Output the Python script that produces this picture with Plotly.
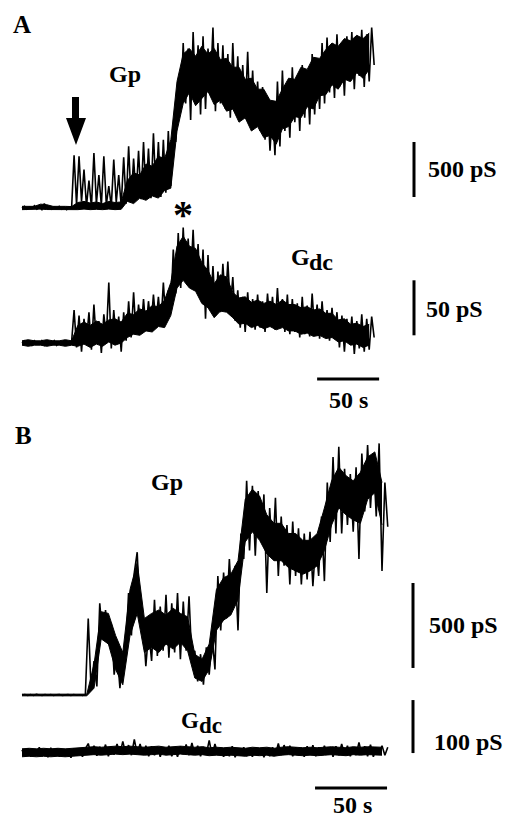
import numpy as np
import plotly.graph_objects as go

W, H = 508, 817

# ---------------- data ----------------
# Panel A traces, sampled every 2 s; conductance in pS (noise extremes)
gp_a = [0, 15, -10, 10, -5, 20, -10, 5, -15, 40, 0, 10, -10, 10, -5, 15, -10, 5, -15, 10, 0,
        480, 30, 470, 60, 350, 20, 250, 10, 500, 40, 300, 20, 470, 30, 200, 15, 440, 50, 300, 20, 460,
        40, 560, 60, 450, 100, 520, 80, 600, 120, 540, 90, 680, 150, 600, 100, 620, 140, 700, 200,
        750, 600, 1100, 900,
        1500, 950, 1450, 800, 1600, 1000, 1480, 850, 1560, 900, 1450, 1100, 1640, 880, 1500, 950,
        1480, 900, 1400, 820, 1500, 950, 1380, 800, 1300, 850, 1420, 780, 1250, 750, 1150, 700, 1100, 620, 1000, 520, 900, 480,
        1150, 560, 1250, 700, 1100, 640, 1280, 780, 1200, 700, 1300, 820, 1250, 760, 1400, 850, 1350, 900,
        1500, 950, 1550, 1050, 1480, 1000, 1580, 1100, 1500, 1020, 1560, 1150, 1600, 1080, 1540, 1200, 1620, 1100, 1580, 1150, 1640, 1300]

gdc_a = [0, 2, -1, 1, -2, 2, 0, -1, 2, -2, 1, 0, -1, 2, -2, 1, -1, 2, 0, -1, 1,
         30, -4, 25, -8, 22, 2, 28, -6, 35, 0, 20, -9, 26, 5, 55, -5, 30, 2, 24, -8, 28,
         2, 38, 5, 46, 8, 35, 10, 40, 12, 38, 15, 44, 18, 42, 16, 55, 20, 48, 30,
         85, 45, 100, 50, 105, 58, 95, 55,
         103, 50, 90, 40, 85, 22, 80, 30, 70, 25, 65, 28, 72, 35, 74, 32, 60,
         20, 48, 14, 42, 10, 46, 15, 40, 12, 44, 14, 38, 10, 45, 16, 42, 12, 50, 14, 40, 10, 44,
         8, 40, 10, 36, 5, 42, 8, 34, 6, 45, 10, 35, 4, 38, 8, 30, 2, 32, 5, 28,
         -4, 25, -8, 22, 0, 24, -10, 20, -5, 26, -8, 22, -6, 24, 5]

# Panel A dense core of the traces (lower / upper edge of the solid band), every 5 s
gp_a_core_lo = [-15, -12, -15, -10, -14, -15, -12, -15, -13,
                -15, -10, -15, -12, -15, -10, -15, -12,
                60, 40, 90, 70, 110, 90, 160, 180,
                700,
                950, 1050, 930, 1000, 1060, 940, 980,
                880, 900, 780, 820, 700, 740, 640, 660, 580,
                720, 740, 830, 820, 920, 900, 1020,
                1030, 1120, 1080, 1170, 1150, 1230, 1180, 1260]
gp_a_core_hi = [15, 12, 15, 35, 30, 15, 12, 15, 13,
                50, 60, 45, 55, 40, 60, 50, 55,
                250, 320, 300, 400, 380, 470, 450, 620,
                1150,
                1400, 1450, 1380, 1470, 1400, 1450, 1350,
                1360, 1280, 1280, 1170, 1180, 1080, 1080, 980, 970,
                1080, 1180, 1170, 1280, 1260, 1370, 1360,
                1440, 1500, 1470, 1540, 1520, 1570, 1540, 1590]
gdc_a_core_lo = [-2, -3, -2, -2, -3, -2, -2, -3, -2,
                 -3, -1, -4, -1, -3, 1, -2, 0,
                 5, 8, 7, 11, 10, 15, 14, 25,
                 50, 57, 50,
                 47, 36, 32, 23, 29, 28,
                 23, 17, 18, 14, 16, 13, 15, 12, 14, 11,
                 11, 8, 9, 6, 7, 4, 5,
                 1, 2, -2, -1, -4, -2]
gdc_a_core_hi = [2, 3, 2, 2, 3, 2, 2, 3, 2,
                 16, 19, 16, 20, 17, 21, 22, 19,
                 27, 26, 31, 29, 34, 33, 39, 55,
                 88, 97, 88,
                 86, 73, 66, 54, 62, 60,
                 46, 41, 42, 37, 39, 36, 38, 35, 39, 35,
                 35, 32, 33, 30, 31, 27, 27,
                 21, 22, 17, 18, 15, 17]

# Panel B traces, sampled every 2 s; conductance in pS
gp_b = [0, 3, -2, 2, -3, 4, 0, -2, 3, -1, 2, -3, 1, 3, -2, 0, 2, -3, 3, -1, 1, -2, 2,
        450, 30, 200, 50,
        540, 330, 500, 300,
        420, 120, 260, 40, 220, 250,
        600, 350, 720, 840, 450,
        430, 170, 380,
        200, 560, 230, 520, 260, 590, 220, 540, 250, 600, 210, 550, 260, 580, 200,
        260, 80, 240, 60, 280, 120, 350,
        150, 700, 380, 720, 450, 800, 500, 760, 380,
        950, 800, 1260, 850, 1230, 820, 1200, 900, 1180,
        600, 1100, 800, 1160, 700, 1050, 760, 1000, 650, 1020, 700, 980,
        650, 950, 680, 960, 640, 900, 700,
        1050, 670, 1250, 900, 1400, 950, 1460,
        950, 1330, 1000, 1300, 960, 1340, 800,
        1420, 1080, 1470, 1100, 1400, 1050, 1480,
        730, 1250, 990]

gdc_b = [4, -8, 7, -9, 5, -7, 9, -8, 4, -10, 8, -6, 7, -9, 5, -8, 4, -11, 7, -7, 3, -9, 6,
         16, -5, 12, -7, 10, -4, 14, -8, 11, -5, 15, -4, 20, -3, 13, -6, 24, -4, 15, -5, 12, -8, 11,
         -6, 10, -9, 8, -5, 12, -8, 7, -9, 11, -4, 14, -6, 17, -5, 12, -8, 10, -4, 22, -6, 15, -5,
         8, -9, 7, -8, 11, -10, 5, -7, 9, -8, 4, -9, 8, -7, 6, -10, 5, -8, 9, -5, 16, -6, 13,
         -4, 12, -8, 9, -6, 8, -9, 11, -5, 13, -8, 9, -6, 12, -5, 8, -9, 11, -6, 15, -4, 12, -8,
         9, -6, 18, -5, 11, -8, 14, -9, 8, -5, 12, -6, 9]

# Panel B dense core, every 5 s
gp_b_core_lo = [-5, -5, -5, -5, -5, -5, -5, -5, -5, -5,
                40,
                330, 300,
                150, 60,
                350, 480,
                250,
                280, 250, 300, 270, 310, 260,
                100, 80, 150,
                380, 440, 470, 560,
                900, 960, 910,
                830, 790, 790, 750, 730,
                710, 730, 760,
                850, 1000, 1100,
                1060, 1030, 1010,
                1150, 1190, 1000]
gp_b_core_hi = [5, 5, 5, 5, 5, 5, 5, 5, 5, 5,
                180,
                490, 480,
                350, 250,
                620, 780,
                450,
                480, 500, 470, 510, 480, 460,
                240, 210, 300,
                620, 690, 710, 790,
                1150, 1210, 1170,
                1060, 1010, 1010, 950, 950,
                910, 910, 950,
                1100, 1260, 1340,
                1290, 1260, 1310,
                1400, 1430, 1250]
gdc_b_core_lo = [-9, -8, -9, -8, -9, -8, -9, -8, -8, -6,
                 -5, -6, -5, -4, -5, -4, -5, -6, -5, -4,
                 -6, -5, -4, -5, -6, -5, -7, -6, -7, -6,
                 -7, -8, -6, -7, -6, -8, -6, -5, -6, -7,
                 -6, -7, -6, -5, -6, -7, -5, -6, -5, -6, -6]
gdc_b_core_hi = [6, 7, 6, 7, 6, 7, 6, 7, 7, 9,
                 10, 9, 10, 11, 10, 11, 10, 9, 10, 11,
                 9, 10, 11, 10, 9, 10, 8, 9, 8, 9,
                 8, 7, 9, 8, 9, 7, 9, 10, 9, 8,
                 9, 8, 9, 10, 9, 8, 10, 9, 10, 9, 9]

dt = 2.0      # sampling interval of traces, s
dt_core = 5.0 # sampling interval of band edges, s
t_a = np.arange(len(gp_a)) * dt
t_b = np.arange(len(gp_b)) * dt
tc_a = np.arange(len(gp_a_core_lo)) * dt_core
tc_b = np.arange(len(gp_b_core_lo)) * dt_core

scale_gp_a = 500     # pS
scale_gdc_a = 50     # pS
scale_gp_b = 500     # pS
scale_gdc_b = 100    # pS
time_bar = 50        # s

# ---------------- layout helpers (pixel placement) ----------------
def px(x):
    return x / W

def py(y):
    return 1 - y / H

def xrange_for(x0_px, k):
    return [(0 - x0_px) / k, (W - x0_px) / k]

def yrange_for(base_px, k):
    return [(base_px - H) / k, base_px / k]

KXA, X0A = 1.24, 22
KXB, X0B = 1.44, 22
AX = dict(gp_a=(208, 0.11), gdc_a=(343, 1.1), gp_b=(695, 0.17), gdc_b=(752, 0.53))

fig = go.Figure()

def band(t, lo, hi, xa, ya):
    fig.add_trace(go.Scatter(x=t, y=lo, mode="lines", line=dict(color="black", width=1),
                             xaxis=xa, yaxis=ya, hoverinfo="skip"))
    fig.add_trace(go.Scatter(x=t, y=hi, mode="lines", line=dict(color="black", width=1),
                             fill="tonexty", fillcolor="black",
                             xaxis=xa, yaxis=ya, hoverinfo="skip"))

band(tc_a, gp_a_core_lo, gp_a_core_hi, "x", "y")
band(tc_a, gdc_a_core_lo, gdc_a_core_hi, "x", "y2")
band(tc_b, gp_b_core_lo, gp_b_core_hi, "x2", "y3")
band(tc_b, gdc_b_core_lo, gdc_b_core_hi, "x2", "y4")

lw = 1.6
fig.add_trace(go.Scatter(x=t_a, y=gp_a, mode="lines", line=dict(color="black", width=lw),
                         xaxis="x", yaxis="y"))
fig.add_trace(go.Scatter(x=t_a, y=gdc_a, mode="lines", line=dict(color="black", width=lw),
                         xaxis="x", yaxis="y2"))
fig.add_trace(go.Scatter(x=t_b, y=gp_b, mode="lines", line=dict(color="black", width=lw),
                         xaxis="x2", yaxis="y3"))
fig.add_trace(go.Scatter(x=t_b, y=gdc_b, mode="lines", line=dict(color="black", width=lw),
                         xaxis="x2", yaxis="y4"))

hidden = dict(visible=False, fixedrange=True, domain=[0, 1])
fig.update_layout(
    width=W, height=H, margin=dict(l=0, r=0, t=0, b=0),
    paper_bgcolor="white", plot_bgcolor="white", showlegend=False,
    xaxis=dict(hidden, range=xrange_for(X0A, KXA), anchor="y"),
    xaxis2=dict(hidden, range=xrange_for(X0B, KXB), anchor="y3", overlaying="x"),
    yaxis=dict(hidden, range=yrange_for(*AX["gp_a"]), anchor="x"),
    yaxis2=dict(hidden, range=yrange_for(*AX["gdc_a"]), anchor="x", overlaying="y"),
    yaxis3=dict(hidden, range=yrange_for(*AX["gp_b"]), anchor="x2", overlaying="y"),
    yaxis4=dict(hidden, range=yrange_for(*AX["gdc_b"]), anchor="x2", overlaying="y"),
)

# ---------------- scale bars ----------------
shapes = []
def vbar(xpix, yref, bottom, length):
    shapes.append(dict(type="line", xref="paper", yref=yref, x0=px(xpix), x1=px(xpix),
                       y0=bottom, y1=bottom + length, line=dict(color="black", width=3)))

def hbar(xref, t0, length, ypix):
    shapes.append(dict(type="line", xref=xref, yref="paper", x0=t0, x1=t0 + length,
                       y0=py(ypix), y1=py(ypix), line=dict(color="black", width=3)))

vbar(414, "y", 100, scale_gp_a)
vbar(414, "y2", 7, scale_gdc_a)
vbar(413, "y3", 159, scale_gp_b)
vbar(413, "y4", -2, scale_gdc_b)
hbar("x", 238, time_bar, 379)
hbar("x2", 203.5, time_bar, 788)

# arrow (stimulus marker)
pts = [(72, 97), (79, 97), (79, 118), (86, 118), (76, 145), (66, 118), (72, 118)]
path = "M " + " L ".join(f"{px(a):.5f},{py(b):.5f}" for a, b in pts) + " Z"
shapes.append(dict(type="path", xref="paper", yref="paper", path=path,
                   fillcolor="black", line=dict(color="black", width=0)))
fig.update_layout(shapes=shapes)

# ---------------- text ----------------
FONT = "Liberation Serif"
def ann(text, x, y, size, xanchor="center", yanchor="middle"):
    fig.add_annotation(text=text, x=px(x), y=py(y), xref="paper", yref="paper",
                       xanchor=xanchor, yanchor=yanchor, showarrow=False,
                       font=dict(family=FONT, size=size, color="black", weight="bold"))

ann("A", 22, 25, 25)
ann("B", 23, 435, 25)
ann("Gp", 125, 74, 24)
ann("G", 300, 257, 24)
ann("dc", 307, 262, 24, xanchor="left")
ann("Gp", 167, 482, 24)
ann("G", 190, 720, 23)
ann("dc", 197, 725, 23, xanchor="left")
ann("500 pS", 426, 169, 24, xanchor="left")
ann("50 pS", 424, 309, 24, xanchor="left")
ann("500 pS", 427, 625, 24, xanchor="left")
ann("100 pS", 432, 742, 24, xanchor="left")
ann("50 s", 348, 400, 24)
ann("50 s", 352, 805, 24)
ann("*", 183, 215, 40)

fig.write_html("out.html", config={"displayModeBar": False},
               post_script="document.body.style.margin='0';document.body.style.padding='0';")
